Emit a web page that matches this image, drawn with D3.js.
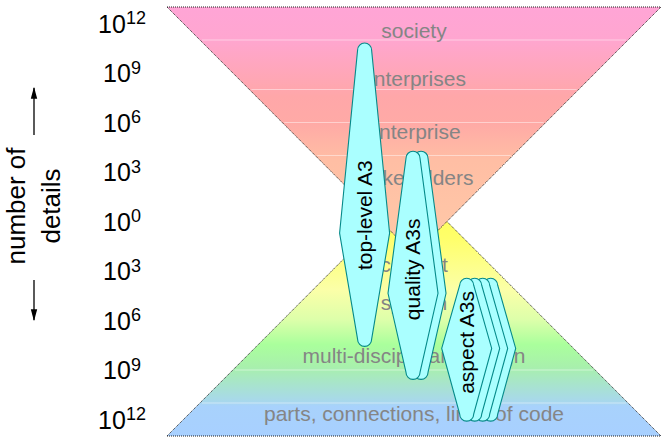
<!DOCTYPE html>
<html>
<head>
<meta charset="utf-8">
<script src="https://cdn.jsdelivr.net/npm/d3@7"></script>
<style>
  body { margin: 0; background: #fff; }
  svg { display: block; font-family: "Liberation Sans", Arial, sans-serif; }
</style>
</head>
<body>
<svg width="662" height="441"></svg>
<script>
// orders of magnitude on the "number of details" axis (top half up, bottom half down)
var tickExp = [12, 9, 6, 3, 0, -3, -6, -9, -12];
var tickLabels = ["12", "9", "6", "3", "0", "3", "6", "9", "12"];

var levelNames = ["society", "enterprises", "enterprise", "stakeholders",
                  "context", "system", "multi-disciplinary design",
                  "parts, connections, lines of code"];
var levelExp = [11.57, 8.66, 5.44, 2.65, -2.63, -4.93, -8.15, -11.67];

// band borders inside the two triangles
var topBands = [11, 8, 6, 4];
var bottomBands = [-9, -11];

// the two triangles: [base, apex]
var topTriangle = [13, -2];
var bottomTriangle = [-13, 2];

// A3 leaves
var a3Names = ["top-level A3", "quality A3s", "aspect A3s"];
var a3Center = [-3, -0.06, 3.2];
var a3Top = [10.82, 4.26, -3.44];
var a3Waist = [-0.71, -4.35, -7.69];
var a3Bottom = [-7.57, -9.57, -12.1];
var a3TextAt = [0.38, -2.9, -7.33];
var a3Copies = [1, 2, 4];

var svg = d3.select("svg");

let y = d3.scaleLinear().domain([12, -12]).range([23.5, 419.5]);
let x = d3.scaleLinear().domain([-15, 15]).range([167, 661]);

var defs = svg.append("defs");
var gTop = defs.append("linearGradient").attr("id", "gradTop")
    .attr("gradientUnits", "userSpaceOnUse")
    .attr("x1", 0).attr("x2", 0).attr("y1", y(13)).attr("y2", y(-2));
[[0, "#ffa5d6"], [0.13, "#ffa6d0"], [0.36, "#ffa7a9"], [0.47, "#ffaaa6"],
 [0.62, "#ffbea4"], [1, "#ffcaa8"]].forEach(function(s) {
    gTop.append("stop").attr("offset", s[0]).attr("stop-color", s[1]);
});
var gBot = defs.append("linearGradient").attr("id", "gradBot")
    .attr("gradientUnits", "userSpaceOnUse")
    .attr("x1", 0).attr("x2", 0).attr("y1", y(2)).attr("y2", y(-13));
[[0, "#ffff4c"], [0.2, "#ffff6a"], [0.41, "#fbffa8"], [0.53, "#ddffaa"],
 [0.63, "#aaff9c"], [0.72, "#a8f0ac"], [0.86, "#a8d8ec"], [0.88, "#a8d2fc"],
 [1, "#a8d0ff"]].forEach(function(s) {
    gBot.append("stop").attr("offset", s[0]).attr("stop-color", s[1]);
});

function trianglePath(t) {
    let base = t[0], apex = t[1];
    let half = Math.abs(base - apex);
    return "M" + x(-half) + "," + y(base) +
           "L" + x(half) + "," + y(base) +
           "L" + x(0) + "," + y(apex) + "Z";
}

svg.append("path")
    .attr("d", trianglePath(bottomTriangle))
    .attr("fill", "url(#gradBot)")
    .attr("stroke", "#222")
    .attr("stroke-width", 1)
    .attr("stroke-dasharray", "1,1");

svg.append("path")
    .attr("d", trianglePath(topTriangle))
    .attr("fill", "url(#gradTop)")
    .attr("stroke", "#222")
    .attr("stroke-width", 1)
    .attr("stroke-dasharray", "1,1");

// faint band borders
function bandLine(e, t) {
    let half = Math.abs(e - t[1]);
    svg.append("line")
        .attr("x1", x(-half) + 2).attr("x2", x(half) - 2)
        .attr("y1", y(e)).attr("y2", y(e))
        .attr("stroke", "#fff")
        .attr("stroke-opacity", 0.45)
        .attr("stroke-width", 1);
}
topBands.forEach(function(e) { bandLine(e, topTriangle); });
bottomBands.forEach(function(e) { bandLine(e, bottomTriangle); });

svg.selectAll("text.level")
    .data(levelNames)
    .enter().append("text")
    .attr("class", "level")
    .attr("x", x(0))
    .attr("y", function(d, i) { return y(levelExp[i]); })
    .attr("dy", "0.35em")
    .attr("text-anchor", "middle")
    .style("font-size", "21px")
    .style("fill", "#858585")
    .text(function(d) { return d; });

// tick labels 10^n
var ticks = svg.selectAll("text.tick")
    .data(tickExp)
    .enter().append("text")
    .attr("class", "tick")
    .attr("x", 122)
    .attr("y", function(d) { return y(d); })
    .attr("dy", "0.36em")
    .attr("text-anchor", "middle")
    .style("font-size", "25px")
    .style("fill", "#000");
ticks.append("tspan").text("10");
ticks.append("tspan")
    .attr("dy", "-0.45em")
    .style("font-size", "18px")
    .text(function(d, i) { return tickLabels[i]; });

// axis title and arrows
svg.append("text")
    .attr("transform", "translate(25,206) rotate(-90)")
    .attr("text-anchor", "middle")
    .style("font-size", "26px")
    .text("number of");
svg.append("text")
    .attr("transform", "translate(60,206) rotate(-90)")
    .attr("text-anchor", "middle")
    .style("font-size", "26px")
    .text("details");

defs.append("marker").attr("id", "arrow")
    .attr("viewBox", "0 0 10 10").attr("refX", 9).attr("refY", 5)
    .attr("markerWidth", 12).attr("markerHeight", 8)
    .attr("markerUnits", "userSpaceOnUse")
    .attr("orient", "auto")
    .attr("preserveAspectRatio", "none")
    .append("path").attr("d", "M0,1 L10,5 L0,9 Z").attr("fill", "#000");

svg.append("line")
    .attr("x1", 34).attr("x2", 34).attr("y1", 135).attr("y2", 88)
    .attr("stroke", "#000").attr("stroke-width", 1.3)
    .attr("marker-end", "url(#arrow)");
svg.append("line")
    .attr("x1", 34).attr("x2", 34).attr("y1", 280).attr("y2", 320)
    .attr("stroke", "#000").attr("stroke-width", 1.3)
    .attr("marker-end", "url(#arrow)");

// A3 leaves, back copies first
function leafPath(cx, yTop, yWaist, yBot) {
    let r = 7, w = 25;
    return "M" + (cx - r) + "," + (yTop + r) +
           "A" + r + "," + r + " 0 0 1 " + (cx + r) + "," + (yTop + r) +
           "L" + (cx + w) + "," + yWaist +
           "L" + (cx + r) + "," + (yBot - r) +
           "A" + r + "," + r + " 0 0 1 " + (cx - r) + "," + (yBot - r) +
           "L" + (cx - w) + "," + yWaist + "Z";
}

a3Names.forEach(function(name, i) {
    let g = svg.append("g").attr("class", "leaf");
    for (let k = a3Copies[i] - 1; k >= 0; k--) {
        let cx = x(a3Center[i]) + k * 8;
        g.append("path")
            .attr("d", leafPath(cx, y(a3Top[i]), y(a3Waist[i]), y(a3Bottom[i])))
            .attr("fill", "#aaffff")
            .attr("stroke", "#058a8a")
            .attr("stroke-width", 1.1);
    }
    g.append("text")
        .attr("transform", "translate(" + x(a3Center[i]) + "," + y(a3TextAt[i]) + ") rotate(-90)")
        .attr("dy", "0.35em")
        .attr("text-anchor", "middle")
        .style("font-size", "21px")
        .style("fill", "#000")
        .text(name);
});
</script>
</body>
</html>
